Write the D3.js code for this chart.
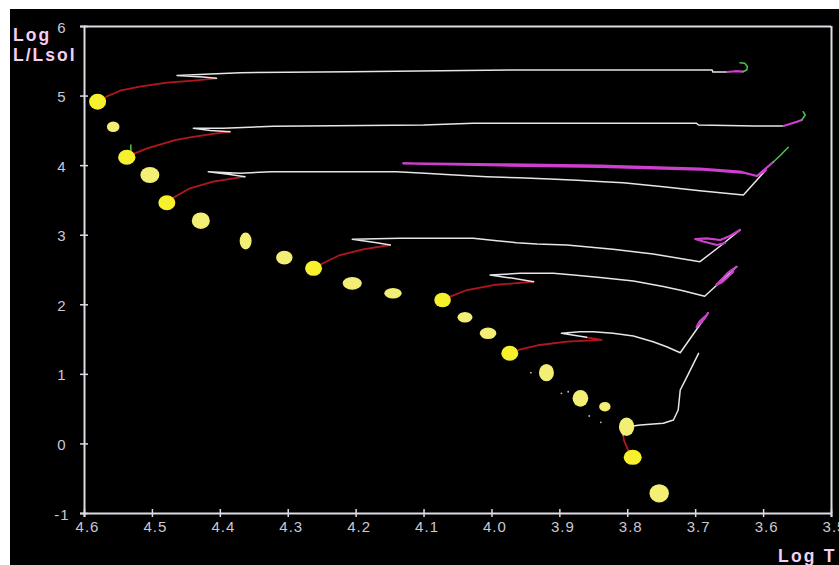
<!DOCTYPE html>
<html>
<head>
<meta charset="utf-8">
<script src="https://cdn.jsdelivr.net/npm/d3@7"></script>
<style>
  html, body { margin: 0; padding: 0; background: #ffffff; }
  svg { display: block; }
</style>
</head>
<body>
<svg id="chart" width="839" height="565"></svg>
<script>
// ---------- Zero-age main sequence models ----------
const zamsLogT = [4.580, 4.557, 4.537, 4.503, 4.478, 4.428, 4.362, 4.305, 4.262, 4.205, 4.145,
                  4.072, 4.039, 4.005, 3.973, 3.919, 3.869, 3.833, 3.801, 3.792, 3.753];
const zamsLogL = [4.912, 4.553, 4.113, 3.858, 3.460, 3.202, 2.910, 2.670, 2.517, 2.301, 2.158,
                  2.062, 1.813, 1.583, 1.296, 1.017, 0.648, 0.528, 0.240, -0.200, -0.717];
// half-extent of each star blob, in log T and in log L
const blobLogT = [0.0125, 0.0093, 0.0128, 0.0140, 0.0125, 0.0133, 0.0088, 0.0121, 0.0125, 0.0140, 0.0128,
                  0.0122, 0.0110, 0.0122, 0.0125, 0.0110, 0.0115, 0.0084, 0.0113, 0.0133, 0.0143];
const blobLogL = [0.115, 0.076, 0.108, 0.115, 0.108, 0.119, 0.122, 0.098, 0.108, 0.091, 0.076,
                  0.105, 0.075, 0.083, 0.108, 0.125, 0.119, 0.069, 0.132, 0.108, 0.132];
// 1 = an evolutionary track was computed from this model
const evolved = [1, 0, 1, 0, 1, 0, 0, 0, 1, 0, 0, 1, 0, 0, 1, 0, 0, 0, 0, 1, 0];

// faint isolated points
const speckLogT = [3.942, 3.897, 3.887, 3.856, 3.839];
const speckLogL = [1.017, 0.720, 0.743, 0.394, 0.304];

// ---------- Evolutionary tracks, [log T, log L/Lsol] ----------
// A
const msA  = [[4.580,4.912],[4.567,4.984],[4.547,5.070],[4.518,5.128],[4.478,5.185],[4.439,5.214],[4.405,5.248]];
const gapA = [[4.405,5.248],[4.425,5.267],[4.463,5.288],[4.422,5.306],[4.370,5.329],[4.208,5.343],[3.965,5.368],
              [3.675,5.368],[3.674,5.339],[3.653,5.339]];
const heA  = [[3.653,5.339],[3.641,5.350],[3.630,5.343]];
const agbA = [[3.630,5.343],[3.624,5.368],[3.623,5.415],[3.627,5.464],[3.634,5.472]];
// B
const msB  = [[4.537,4.113],[4.525,4.170],[4.507,4.242],[4.466,4.361],[4.444,4.400],[4.410,4.448],[4.385,4.481]];
const gapB = [[4.385,4.481],[4.414,4.498],[4.439,4.530],[4.395,4.530],[4.321,4.558],[4.100,4.577],[4.027,4.601],
              [3.698,4.601],[3.695,4.577],[3.612,4.563],[3.570,4.563]];
const heB  = [[3.570,4.563],[3.550,4.624],[3.543,4.649]];
const agbB = [[3.543,4.649],[3.538,4.721],[3.541,4.768]];
const spurB = [[4.531,4.208],[4.531,4.290]];
// C
const msC  = [[4.478,3.460],[4.466,3.546],[4.444,3.667],[4.410,3.762],[4.363,3.834]];
const gapC = [[4.363,3.834],[4.385,3.865],[4.417,3.906],[4.370,3.883],[4.324,3.906],[4.140,3.906],[4.098,3.883],
              [4.054,3.858],[4.007,3.834],[3.960,3.819],[3.914,3.801],[3.874,3.782],[3.835,3.762],[3.806,3.748],
              [3.747,3.690],[3.693,3.633],[3.629,3.571],[3.596,3.930]];
const heC  = [[3.596,3.930],[3.609,3.844],[3.634,3.909],[3.693,3.952],[3.767,3.973],[3.840,3.992],[3.987,4.012],
              [4.130,4.026],[3.987,3.995],[3.840,3.973],[3.693,3.937],[3.627,3.887],[3.609,3.844],[3.585,4.045]];
const agbC = [[3.585,4.045],[3.574,4.146],[3.563,4.256]];
// D
const msD  = [[4.262,2.517],[4.248,2.589],[4.223,2.708],[4.189,2.790],[4.149,2.852]];
const gapD = [[4.149,2.852],[4.169,2.885],[4.205,2.934],[4.135,2.948],[4.027,2.948],[3.992,2.914],[3.963,2.885],
              [3.933,2.866],[3.889,2.852],[3.821,2.790],[3.762,2.723],[3.693,2.612],[3.663,2.838],[3.634,3.068]];
const heD  = [[3.634,3.068],[3.649,2.981],[3.663,2.924],[3.683,2.948],[3.700,2.938],[3.688,2.902],[3.668,2.852],[3.656,2.881]];
// E
const msE  = [[4.072,2.062],[4.061,2.109],[4.036,2.205],[3.997,2.277],[3.938,2.325]];
const gapE = [[3.938,2.325],[3.968,2.373],[3.985,2.396],[4.002,2.421],[3.958,2.445],[3.909,2.445],[3.879,2.421],
              [3.840,2.385],[3.791,2.335],[3.747,2.256],[3.718,2.195],[3.686,2.115],[3.668,2.277],[3.639,2.540]];
const heE  = [[3.639,2.540],[3.652,2.450],[3.669,2.277],[3.660,2.320],[3.644,2.464]];
// F
const msF  = [[3.973,1.296],[3.960,1.343],[3.929,1.415],[3.889,1.462],[3.838,1.487],[3.860,1.525]];
const gapF = [[3.860,1.525],[3.897,1.583],[3.870,1.606],[3.850,1.606],[3.821,1.583],[3.791,1.544],[3.762,1.462],
              [3.742,1.390],[3.722,1.304],[3.683,1.846]];
const heF  = [[3.683,1.846],[3.693,1.760],[3.698,1.673],[3.688,1.774],[3.681,1.875]];
// G
const msG  = [[3.792,-0.200],[3.799,-0.095],[3.805,0.049],[3.806,0.121]];
const gapG = [[3.806,0.121],[3.805,0.193],[3.800,0.240],[3.781,0.265],[3.747,0.289],[3.732,0.337],[3.725,0.480],
              [3.722,0.768],[3.712,0.959],[3.695,1.295]];

// ---------- Axes ----------
const xTicks = [4.6, 4.5, 4.4, 4.3, 4.2, 4.1, 4.0, 3.9, 3.8, 3.7, 3.6, 3.5];
const xTickLabels = ["4.6", "4.5", "4.4", "4.3", "4.2", "4.1", "4.0", "3.9", "3.8", "3.7", "3.6", "3.5"];
const yTicks = [-1, 0, 1, 2, 3, 4, 5, 6];
const yTickLabels = ["-1", "0", "1", "2", "3", "4", "5", "6"];
const yTitle = ["Log", "L/Lsol"];
const xTitle = "Log T";

// ---------- Drawing ----------
const svg = d3.select("#chart");
const W = 839, H = 565;

const x = d3.scaleLinear().domain([4.6, 3.5]).range([84, 831]);
const y = d3.scaleLinear().domain([-1, 6]).range([513, 26]);

const axisColor = "#dcdce4";
const labelColor = "#c9c9d6";
const titleColor = "#f2d0f2";

svg.append("rect").attr("x", 10).attr("y", 9).attr("width", W - 10).attr("height", H - 9).attr("fill", "#000");

// frame: top and right edges
svg.append("line")
  .attr("x1", x.range()[0]).attr("x2", x.range()[1])
  .attr("y1", y.range()[1] + 0.5).attr("y2", y.range()[1] + 0.5)
  .attr("stroke", axisColor).attr("stroke-width", 2);
svg.append("line")
  .attr("x1", x.range()[1] + 0.5).attr("x2", x.range()[1] + 0.5)
  .attr("y1", y.range()[1]).attr("y2", y.range()[0])
  .attr("stroke", axisColor).attr("stroke-width", 2);

const gx = svg.append("g").attr("transform", `translate(0,${y.range()[0]})`)
  .call(d3.axisBottom(x).tickValues(xTicks)
    .tickFormat((d, i) => xTickLabels[i]).tickSizeOuter(0).tickSize(4));
const gy = svg.append("g").attr("transform", `translate(${x.range()[0]},0)`)
  .call(d3.axisLeft(y).tickValues(yTicks)
    .tickFormat((d, i) => yTickLabels[i]).tickSizeOuter(0).tickSize(4));

[gx, gy].forEach(g => {
  g.select(".domain").attr("stroke", axisColor).attr("stroke-width", 2);
  g.selectAll(".tick line").attr("stroke", axisColor).attr("stroke-width", 1.5);
  g.selectAll(".tick text")
    .attr("fill", labelColor)
    .style("font-family", "'Liberation Sans', Arial, sans-serif")
    .style("font-size", "15px")
    .style("letter-spacing", "1px");
});
gx.selectAll(".tick line").attr("y1", -4).attr("y2", 4);
gx.selectAll(".tick text").attr("dy", null).attr("y", 19).attr("x", 3).attr("text-anchor", "middle");
gy.selectAll(".tick line").attr("x1", -4).attr("x2", 4);
gy.selectAll(".tick text").attr("dy", null).attr("y", 6).attr("x", -22).attr("text-anchor", "middle");

// titles
const titleFont = "'Liberation Sans', Arial, sans-serif";
function title(txt, tx, ty, spacing) {
  svg.append("text").attr("x", tx).attr("y", ty).text(txt)
    .attr("fill", titleColor).style("font-family", titleFont).style("font-weight", "bold")
    .style("font-size", "17.5px").style("letter-spacing", spacing);
}
title(yTitle[0], 13, 41, "2px");
title(yTitle[1], 13, 61, "2px");
title(xTitle, 778, 562, "2.2px");

// tracks
const line = d3.line().x(d => x(d[0])).y(d => y(d[1]));
const phaseStyle = {
  ms:  { color: "#b3171d", width: 1.8 },
  gap: { color: "#e6e6e6", width: 1.5 },
  he:  { color: "#cf3fcf", width: 2.2 },
  agb: { color: "#4fc44f", width: 1.5 }
};
const segments = [
  ["ms", msA], ["gap", gapA], ["he", heA], ["agb", agbA],
  ["ms", msB], ["gap", gapB], ["he", heB], ["agb", agbB], ["agb", spurB],
  ["ms", msC], ["gap", gapC], ["he", heC], ["agb", agbC],
  ["ms", msD], ["gap", gapD], ["he", heD],
  ["ms", msE], ["gap", gapE], ["he", heE],
  ["ms", msF], ["gap", gapF], ["he", heF],
  ["ms", msG], ["gap", gapG]
];
svg.append("g").selectAll("path").data(segments).join("path")
  .attr("d", d => line(d[1]))
  .attr("fill", "none")
  .attr("stroke", d => phaseStyle[d[0]].color)
  .attr("stroke-width", d => phaseStyle[d[0]].width)
  .attr("stroke-linejoin", "round")
  .attr("stroke-linecap", "round");

// faint points
svg.append("g").selectAll("circle").data(speckLogT).join("circle")
  .attr("cx", d => x(d)).attr("cy", (d, i) => y(speckLogL[i])).attr("r", 0.9)
  .attr("fill", "#bdbdbd");

// main sequence stars
svg.append("g").selectAll("ellipse").data(zamsLogT).join("ellipse")
  .attr("cx", d => x(d))
  .attr("cy", (d, i) => y(zamsLogL[i]))
  .attr("rx", (d, i) => Math.abs(x(d + blobLogT[i]) - x(d)))
  .attr("ry", (d, i) => Math.abs(y(zamsLogL[i] + blobLogL[i]) - y(zamsLogL[i])))
  .attr("fill", (d, i) => evolved[i] ? "#f7f02c" : "#f3ef74");
</script>
</body>
</html>
